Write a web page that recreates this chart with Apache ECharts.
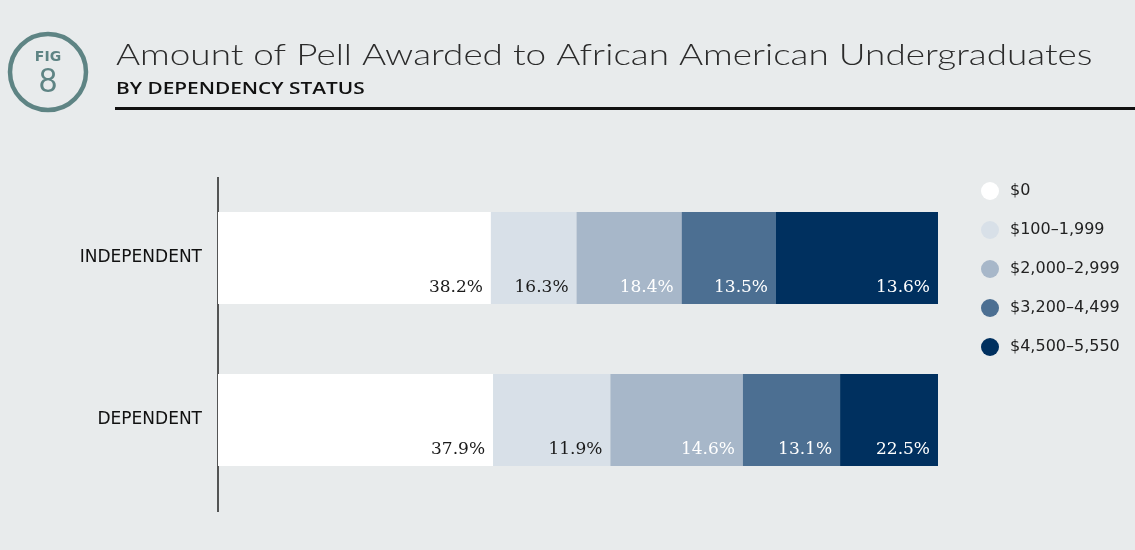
<!DOCTYPE html>
<html>
<head>
<meta charset="utf-8">
<script src="https://cdn.jsdelivr.net/npm/echarts@6/dist/echarts.min.js"></script>
<style>
  html, body { margin: 0; padding: 0; background: #e8ebec; }
  #main { width: 1135px; height: 550px; }
</style>
</head>
<body>
<div id="main"></div>
<script>
// categories (top to bottom) and legend buckets
var categories = ['INDEPENDENT', 'DEPENDENT'];
var buckets = ['$0', '$100\u20131,999', '$2,000\u20132,999', '$3,200\u20134,499', '$4,500\u20135,550'];
var colors = ['#ffffff', '#d8e0e8', '#a7b7c9', '#4c6f92', '#00305f'];

// bar lengths as drawn in the picture (per bucket: [independent, dependent])
var bar0 = [37.9, 38.2];
var bar1 = [11.9, 16.3];
var bar2 = [14.6, 18.4];
var bar3 = [13.1, 13.5];
var bar4 = [22.5, 13.6];
// the printed percentages (the source draws them on the other row's lengths)
var label0 = ['38.2%', '37.9%'];
var label1 = ['16.3%', '11.9%'];
var label2 = ['18.4%', '14.6%'];
var label3 = ['13.5%', '13.1%'];
var label4 = ['13.6%', '22.5%'];

var bars = [bar0, bar1, bar2, bar3, bar4];
var labels = [label0, label1, label2, label3, label4];
var labelColors = ['#1a1a1a', '#1a1a1a', '#ffffff', '#ffffff', '#ffffff'];

var chart = echarts.init(document.getElementById('main'));

var series = bars.map(function (d, i) {
  return {
    name: buckets[i],
    type: 'bar',
    stack: 'all',
    barWidth: 92,
    data: d,
    itemStyle: { color: colors[i] },
    label: {
      show: true,
      position: 'insideBottomRight',
      distance: 8,
      color: labelColors[i],
      fontFamily: 'DejaVu Serif',
      fontSize: 17,
      formatter: function (p) { return labels[i][p.dataIndex]; }
    }
  };
});

var option = {
  backgroundColor: '#e8ebec',
  animation: false,
  grid: { left: 218, right: 197, top: 177, height: 324 },
  xAxis: { type: 'value', min: 0, max: 100, show: false },
  yAxis: {
    type: 'category',
    inverse: true,
    data: categories,
    axisLine: { show: false },
    axisTick: { show: false },
    axisLabel: {
      margin: 16,
      color: '#111',
      fontFamily: 'DejaVu Sans',
      fontSize: 17,
      padding: [0, 0, 16, 0]
    }
  },
  legend: {
    orient: 'vertical',
    left: 976,
    top: 177,
    icon: 'circle',
    itemWidth: 18,
    itemHeight: 18,
    itemGap: 21,
    data: buckets,
    textStyle: { color: '#222', fontFamily: 'DejaVu Sans', fontSize: 16, padding: [0, 0, 0, 6] }
  },
  graphic: [
    { type: 'circle', shape: { cx: 48, cy: 72, r: 38 }, style: { fill: 'none', stroke: '#5e8484', lineWidth: 4.5 } },
    { type: 'text', x: 48, y: 57, style: { text: 'FIG', fill: '#5e8484', font: 'bold 14px "DejaVu Sans"', align: 'center', verticalAlign: 'middle' } },
    { type: 'text', x: 48, y: 82, style: { text: '8', fill: '#5e8484', font: '32px Lato', align: 'center', verticalAlign: 'middle' } },
    { type: 'text', x: 116, y: 55, scaleX: 1.23, style: { text: 'Amount of Pell Awarded to African American Undergraduates', fill: '#2b2b2b', font: '300 30px Lato', verticalAlign: 'middle' } },
    { type: 'text', x: 116, y: 89, scaleX: 1.3, style: { text: 'BY DEPENDENCY STATUS', fill: '#111', font: '600 16px "Open Sans"', verticalAlign: 'middle' } },
    { type: 'rect', shape: { x: 115, y: 107, width: 1020, height: 3 }, style: { fill: '#111' } },
    { type: 'line', shape: { x1: 218, y1: 177, x2: 218, y2: 512 }, style: { stroke: '#222', lineWidth: 1.5 } }
  ],
  series: series
};

chart.setOption(option);
</script>
</body>
</html>
